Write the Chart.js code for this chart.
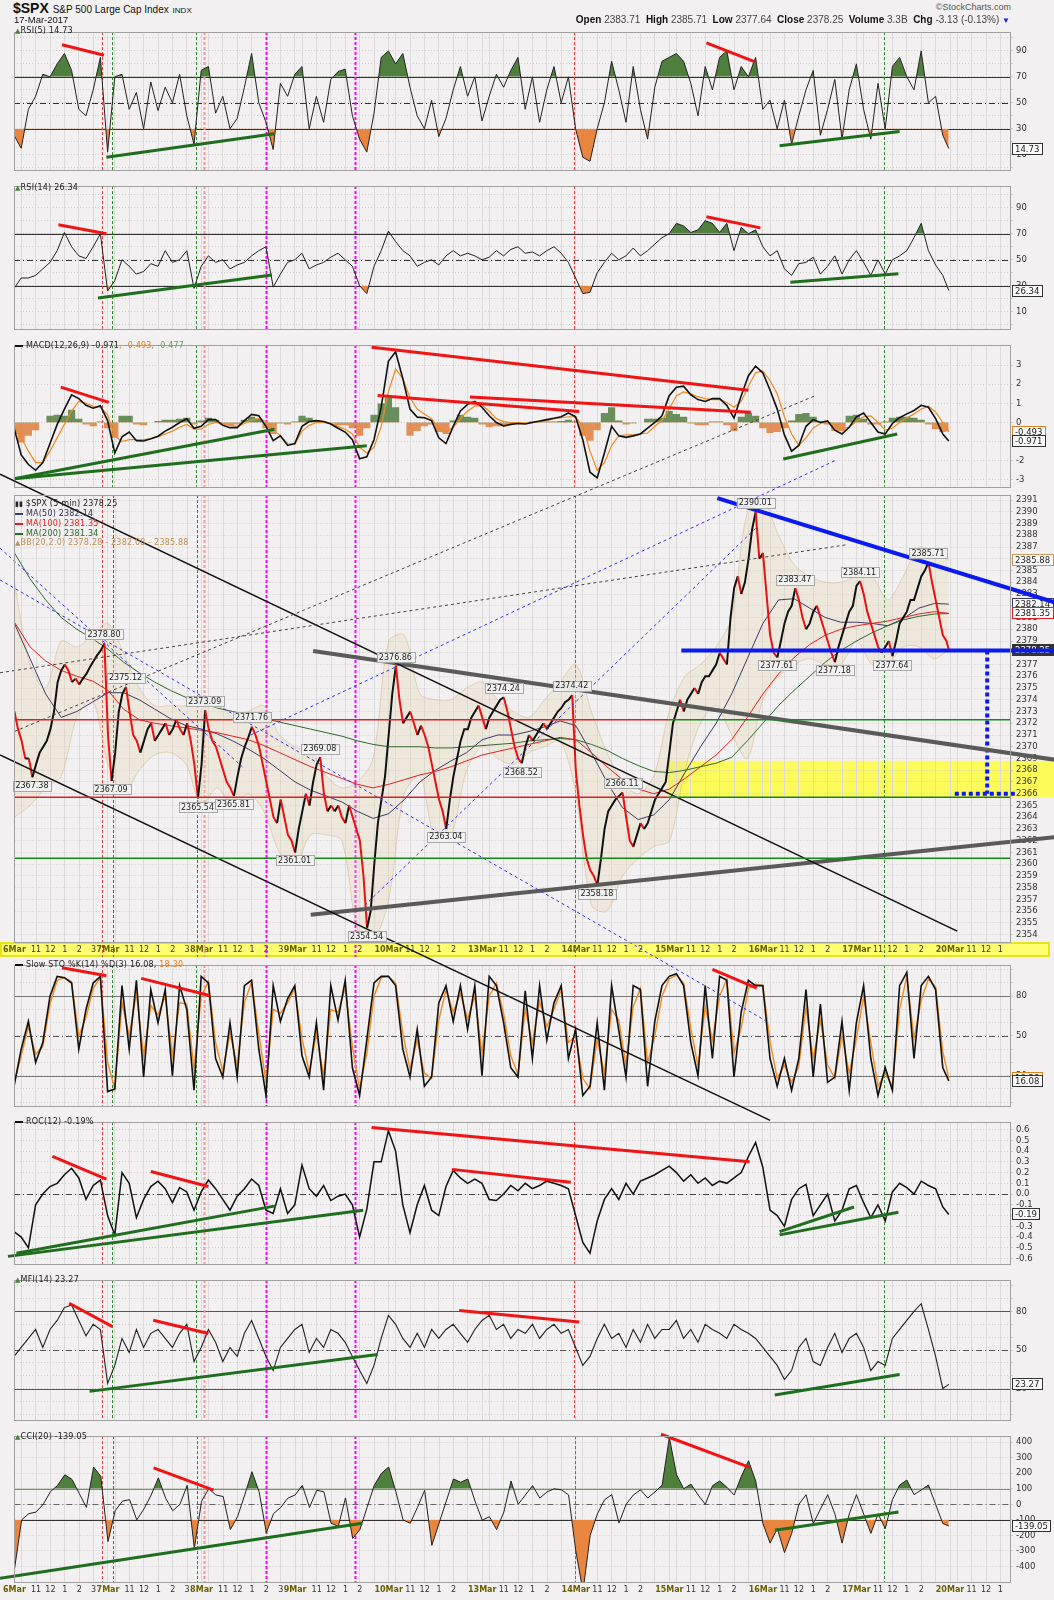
<!DOCTYPE html>
<html>
<head>
<meta charset="utf-8">
<title>$SPX 5 min</title>
<script src="https://cdn.jsdelivr.net/npm/chart.js@4.4.1/dist/chart.umd.min.js"></script>
<style>
  body { margin: 0; background: #f2f0f0; }
  #page { position: relative; width: 1054px; height: 1600px; overflow: hidden; background: #f2f0f0; }
  #page canvas { position: absolute; left: 0; }
  .t { position: absolute; white-space: nowrap; font: 8px "DejaVu Sans", sans-serif; color: #222; z-index: 5; letter-spacing: 0.2px; }
  .hd { position: absolute; white-space: nowrap; font-family: "Liberation Sans", Arial, sans-serif; color: #111; z-index: 5; }
  .g { color: #4e7f3c; font-size: 7px; }
  .dash { display: inline-block; width: 8px; height: 2px; background: #111; vertical-align: middle; margin-right: 3px; }
</style>
</head>
<body>
<div id="page">
  <div class="hd" style="left:13px;top:0px;font-size:14px;font-weight:bold;">$SPX <span style="font-size:10px;font-weight:normal;">S&amp;P 500 Large Cap Index</span> <span style="font-size:8px;font-weight:normal;">INDX</span></div>
  <div class="hd" style="left:14px;top:14px;font-size:9.5px;">17-Mar-2017</div>
  <div class="hd" style="right:43px;top:2px;font-size:9px;color:#555;">&#169;StockCharts.com</div>
  <div class="hd" style="right:44px;top:14px;font-size:10px;"><b>Open</b> <span style="color:#444">2383.71</span>&nbsp; <b>High</b> <span style="color:#444">2385.71</span>&nbsp; <b>Low</b> <span style="color:#444">2377.64</span>&nbsp; <b>Close</b> <span style="color:#444">2378.25</span>&nbsp; <b>Volume</b> <span style="color:#444">3.3B</span>&nbsp; <b>Chg</b> <span style="color:#444">-3.13 (-0.13%)</span> <span style="color:#2020e0;font-size:8px">&#9660;</span></div>

  <canvas id="cRsi5" width="1054" height="154" style="top:24px"></canvas>
  <canvas id="cRsi14" width="1054" height="159" style="top:178px"></canvas>
  <canvas id="cMacd" width="1054" height="158" style="top:337px"></canvas>
  <canvas id="cSto" width="1054" height="157" style="top:957px"></canvas>
  <canvas id="cRoc" width="1054" height="158" style="top:1114px"></canvas>
  <canvas id="cMfi" width="1054" height="156" style="top:1272px"></canvas>
  <canvas id="cCci" width="1054" height="172" style="top:1428px"></canvas>
  <canvas id="cPrice" width="1054" height="800" style="top:330px"></canvas>

  <div class="t" style="left:15px;top:26px"><span class="g">&#9650;</span>RSI(5) 14.73</div>
  <div class="t" style="left:15px;top:183px"><span class="g">&#9650;</span>RSI(14) 26.34</div>
  <div class="t" style="left:15px;top:341px"><span class="dash"></span>MACD(12,26,9) -0.971<span style="color:#e08020">, -0.493</span><span style="color:#6a9a5a">, -0.477</span></div>
  <div class="t" style="left:15px;top:499px"><b style="font-size:7px">&#9646;&#9646;</b> $SPX (5 min) 2378.25</div>
  <div class="t" style="left:15px;top:509px;color:#33335a"><span class="dash" style="background:#3c3c64"></span>MA(50) 2382.14</div>
  <div class="t" style="left:15px;top:519px;color:#e02020"><span class="dash" style="background:#e02020"></span>MA(100) 2381.35</div>
  <div class="t" style="left:15px;top:529px;color:#2a6a2a"><span class="dash" style="background:#2a6a2a"></span>MA(200) 2381.34</div>
  <div class="t" style="left:15px;top:538px;color:#c09050"><span style="font-size:7px">&#9650;</span>BB(20,2.0) 2378.28 - 2382.08 - 2385.88</div>
  <div class="t" style="left:15px;top:960px"><span class="dash"></span>Slow STO %K(14) %D(3) 16.08, <span style="color:#e08020">18.30</span></div>
  <div class="t" style="left:15px;top:1117px"><span class="dash"></span>ROC(12) -0.19%</div>
  <div class="t" style="left:15px;top:1275px"><span class="g">&#9650;</span>MFI(14) 23.27</div>
  <div class="t" style="left:15px;top:1432px"><span class="g">&#9650;</span>CCI(20) -139.05</div>
</div>

<script>
const FONT = '"DejaVu Sans", Verdana, sans-serif';
const X_MAX = 830;   // x axis in 5-minute bars from 6Mar 9:30 (78 bars per session)

// ---- time axis ----
const dayNames = ['6Mar', '7Mar', '8Mar', '9Mar', '10Mar', '13Mar', '14Mar', '15Mar', '16Mar', '17Mar', '20Mar'];
const hourOffsets = [6, 18, 30, 42, 54, 66];
const hourNames = ['', '11', '12', '1', '2', '3'];

// ---- $SPX 15-minute closes, 26 per session, last value = 17Mar close ----
const spxClose = [
  2373, 2371.5, 2370.5, 2369, 2369, 2367.4, 2368.5, 2369.5, 2370, 2370.5, 2371.5, 2373, 2375.5, 2376.5, 2377, 2376.5, 2375.5, 2375.8, 2375.3, 2375.8, 2376.2, 2376.8, 2377.3, 2377.8, 2378.2, 2378.8,
  2371, 2367.1, 2369.5, 2373, 2374.5, 2375.1, 2373, 2371, 2370.5, 2369.5, 2370.5, 2371.5, 2372, 2370.5, 2371, 2371.5, 2372, 2371, 2371.5, 2372.3, 2371.5, 2371, 2372, 2370.5, 2368.5, 2365.6,
  2368.5, 2373.1, 2371.5, 2370.5, 2370, 2369, 2368, 2367, 2366.5, 2365.8, 2367.5, 2369, 2370, 2370.8, 2371.7, 2371, 2370, 2368.5, 2367, 2365.5, 2364, 2363.5, 2365.5, 2364, 2362.5, 2362,
  2361.0, 2363, 2364.5, 2366, 2365, 2367, 2368.5, 2369.1, 2366, 2364.5, 2365, 2364.5, 2365, 2364, 2363.5, 2365, 2364, 2363, 2362, 2359, 2354.6, 2356, 2360, 2363.5, 2365.5, 2367.5,
  2371, 2374.5, 2376.9, 2374, 2372, 2372.5, 2373, 2372, 2371, 2371.8, 2371, 2370, 2368.5, 2367, 2365.5, 2364.5, 2363.0, 2365.5, 2367.5, 2369, 2370.5, 2371.5, 2371.5, 2372.5, 2373, 2373.5,
  2372.5, 2371.5, 2372.5, 2373, 2373.5, 2374, 2374.2, 2373, 2371.5, 2370, 2369, 2368.6, 2370, 2371, 2370.5, 2371, 2371.5, 2372, 2371.5, 2372, 2372.5, 2373, 2373.3, 2373.8, 2374, 2374.4,
  2368, 2365, 2362.5, 2360.5, 2359.5, 2359, 2358.2, 2360.5, 2363, 2364.5, 2365, 2365.5, 2365.8, 2366.1, 2364, 2362, 2361.5, 2362.5, 2363.5, 2363, 2363.5, 2364.5, 2365.5, 2366, 2366.5, 2367,
  2369.5, 2372, 2373, 2374, 2373, 2374, 2374.5, 2375, 2374.5, 2375.5, 2376, 2376, 2376.5, 2377, 2378, 2377.5, 2377, 2381, 2383.5, 2384.5, 2383, 2384, 2386, 2388.5, 2390, 2386,
  2386.5, 2383, 2379.5, 2378, 2377.6, 2379, 2380.5, 2381.5, 2382, 2383.5, 2382.5, 2381, 2380, 2380.5, 2381.5, 2382, 2381, 2380, 2379, 2378, 2377.2, 2378.5, 2379.5, 2380.5, 2381.5, 2382,
  2383.7, 2384.1, 2383, 2381.5, 2380.5, 2379.5, 2378.5, 2378, 2378.5, 2379, 2377.7, 2379, 2380.5, 2381, 2381.5, 2382.5, 2382.5, 2383.5, 2384.5, 2385, 2385.7, 2384, 2382.5, 2381, 2379.5, 2379,
  2378.25
];

// ---- overlays, one value every 13 bars, last = 17Mar close ----
const ma50 = [2380.5, 2377.5, 2374.5, 2372.5, 2373.0, 2373.8, 2374.6, 2374.6, 2374.0, 2373.2, 2372.4, 2371.8, 2371.5, 2371.1, 2370.5, 2369.8, 2369.0, 2368.0, 2367.0, 2366.3, 2365.8, 2365.3, 2364.5, 2363.9, 2364.3, 2365.5, 2367.0, 2368.0, 2368.8, 2369.5, 2370.6, 2371.0, 2371.0, 2371.3, 2371.7, 2372.2, 2371.8, 2369.5, 2367.0, 2364.8, 2363.8, 2364.2, 2365.5, 2367.8, 2370.0, 2372.0, 2374.5, 2377.5, 2380.5, 2382.5, 2382.6, 2381.8, 2381.0, 2380.6, 2380.6, 2380.5, 2380.3, 2380.9, 2381.8, 2382.2, 2382.14];
const ma100 = [2380.6, 2378.5, 2377.3, 2376.5, 2376.0, 2375.6, 2374.8, 2373.2, 2372.3, 2372.0, 2371.8, 2371.6, 2371.4, 2371.2, 2370.9, 2370.6, 2370.1, 2369.5, 2368.9, 2368.3, 2367.8, 2367.3, 2366.8, 2366.5, 2366.8, 2367.2, 2367.6, 2367.9, 2368.3, 2368.8, 2369.3, 2369.6, 2369.9, 2370.2, 2370.5, 2370.8, 2370.6, 2369.5, 2368.3, 2367.2, 2366.4, 2366.0, 2366.4, 2367.3, 2368.3, 2369.3, 2370.6, 2372.5, 2374.5, 2376.2, 2377.6, 2378.7, 2379.5, 2380.0, 2380.3, 2380.5, 2380.7, 2381.0, 2381.3, 2381.5, 2381.35];
const ma200 = [2386.5, 2384.3, 2382.5, 2381.0, 2380.0, 2379.2, 2378.3, 2377.2, 2376.3, 2375.5, 2374.8, 2374.2, 2373.7, 2373.3, 2373.0, 2372.7, 2372.4, 2372.1, 2371.8, 2371.5, 2371.2, 2370.9, 2370.5, 2370.2, 2370.0, 2370.0, 2370.0, 2369.9, 2369.9, 2370.0, 2370.1, 2370.2, 2370.3, 2370.5, 2370.6, 2370.7, 2370.6, 2370.2, 2369.7, 2369.0, 2368.4, 2367.9, 2367.8, 2368.0, 2368.3, 2368.6, 2369.1, 2370.5, 2372.0, 2373.5, 2374.8, 2376.0, 2377.2, 2378.2, 2379.0, 2379.7, 2380.3, 2380.8, 2381.1, 2381.3, 2381.34];
const bbUpper = [2384, 2377, 2375, 2379, 2378.5, 2379.5, 2380.5, 2378, 2375, 2373.5, 2373.5, 2373.5, 2374, 2374, 2372.5, 2373, 2373.5, 2371, 2370, 2369.5, 2367.5, 2366.5, 2367, 2369, 2379, 2379.5, 2374.5, 2374, 2374, 2375, 2375.5, 2374, 2373, 2372.5, 2374, 2375.5, 2377, 2373, 2369.5, 2367, 2366, 2367.5, 2373, 2376, 2377, 2378.5, 2381, 2390, 2391, 2388, 2385.5, 2384.5, 2384, 2384, 2384.5, 2384.5, 2382.5, 2384.5, 2387, 2386.5, 2385.88];
const bbLower = [2364, 2365, 2366.5, 2367.5, 2372.5, 2374, 2368.5, 2366, 2368, 2369.3, 2369.5, 2368.5, 2365, 2366.5, 2365, 2366, 2364.5, 2361, 2360, 2362.5, 2362.5, 2362, 2354.5, 2353.5, 2357, 2366, 2367.5, 2362, 2362.5, 2368, 2370, 2369, 2368.5, 2369.5, 2370, 2370.5, 2366, 2356.5, 2356, 2359, 2360.5, 2361.5, 2362, 2368, 2372, 2373.5, 2371, 2369, 2374, 2376, 2377, 2377.5, 2377, 2377, 2379, 2377, 2377, 2378.5, 2378.5, 2377.5, 2378.28];

// ---- labelled highs and lows ----
const hiloBars = [75, 93, 159, 198, 255, 318, 408, 465, 507, 618, 651, 705, 762, 15, 81, 153, 183, 234, 294, 360, 423, 486, 636, 684, 732];
const hiloValues = [2378.80, 2375.12, 2373.09, 2371.76, 2369.08, 2376.86, 2374.24, 2374.42, 2366.11, 2390.01, 2383.47, 2384.11, 2385.71, 2367.38, 2367.09, 2365.54, 2365.81, 2361.01, 2354.54, 2363.04, 2368.52, 2358.18, 2377.61, 2377.18, 2377.64];
const hiloIsHigh = [1, 1, 1, 1, 1, 1, 1, 1, 1, 1, 1, 1, 1, 0, 0, 0, 0, 0, 0, 0, 0, 0, 0, 0, 0];

// ---- indicators, one value every 6 bars (30 min), last = 17Mar close ----
const rsi5 = [
  25, 15, 45, 55, 72, 70, 80, 88, 75, 45, 40, 60, 85,
  12, 70, 72, 45, 58, 30, 66, 44, 62, 50, 72, 40, 18,
  75, 78, 42, 55, 30, 38, 62, 88, 50, 35, 14, 65, 55,
  72, 78, 30, 55, 35, 68, 74, 76, 40, 22, 12, 42, 85,
  90, 80, 88, 62, 40, 30, 52, 24, 38, 60, 78, 55, 70,
  36, 55, 72, 62, 75, 85, 45, 70, 35, 60, 78, 50, 70,
  30, 8, 5, 30, 50, 82, 60, 35, 78, 45, 22, 62, 82,
  85, 88, 82, 65, 40, 78, 60, 85, 90, 60, 78, 70, 85,
  45, 52, 30, 52, 18, 40, 60, 75, 25, 45, 68, 22, 60,
  80, 45, 22, 65, 30, 78, 85, 70, 60, 90, 50, 55, 25,
  14.73];
const rsi14 = [
  28, 36, 36, 38, 43, 48, 57, 71, 60, 53, 51, 60, 70,
  26, 34, 50, 45, 39, 41, 47, 45, 57, 48, 50, 57, 28,
  45, 53, 48, 50, 43, 46, 48, 53, 57, 60, 29, 39, 48,
  50, 55, 43, 46, 48, 52, 55, 50, 45, 30, 24, 45, 57,
  72, 64, 57, 53, 45, 48, 50, 46, 53, 57, 53, 55, 53,
  50, 52, 57, 53, 58, 60, 55, 56, 53, 57, 60, 55, 48,
  36, 24, 25, 40, 48, 55, 50, 53, 59, 53, 57, 62, 67,
  70, 78, 76, 71, 73, 80, 78, 71, 78, 57, 75, 70, 73,
  60, 53, 57, 43, 38, 47, 48, 52, 39, 45, 53, 39, 50,
  57, 48, 38, 50, 39, 50, 53, 57, 67, 78, 57, 46, 38,
  26.34];
const macdLine = [
  -0.27, -1.7, -2.2, -2.5, -2.1, -1.1, -0.1, 0.7, 1.45, 1.25, 0.9, 0.75, 0.88,
  0.1, -1.6, -0.75, -0.5, -0.95, -0.97, -0.85, -0.72, -0.45, -0.25, 0.0, 0.2, -0.3,
  -0.2, 0.15, 0.15, -0.15, -0.27, -0.27, 0.1, 0.42, 0.35, -0.2, -0.95, -0.7, -1.2,
  -1.1, -0.2, 0.05, 0.1, 0.05, -0.08, -0.3, -0.5, -0.9, -1.9, -1.8, -0.9, 0.8,
  3.2, 3.7, 2.3, 0.7, 0.28, 0.25, 0.1, -0.8, -1.1, -0.2, 0.6, 0.95, 1.1,
  0.8, 0.35, 0.0, -0.18, -0.1, -0.05, -0.08, 0.0, 0.08, 0.15, 0.22, 0.3, 0.5,
  0.3, -0.9, -2.6, -2.9, -1.6, -0.2, -0.7, -0.78, -0.7, -0.6, -0.3, 0.0, 0.35,
  1.4, 1.85, 1.9, 1.45, 1.2, 1.1, 1.25, 1.25, 0.9, 0.23, 1.4, 2.45, 2.95,
  2.6, 1.7, 0.7, -0.65, -1.5, -1.2, -0.2, 0.15, 0.0, 0.08, -0.4, -0.6, -0.25,
  0.3, 0.5, 0.0, -0.5, -0.6, -0.05, 0.25, 0.45, 0.63, 0.9, 0.8, 0.2, -0.6,
  -0.971];
const macdSignal = [
  -0.2, -0.8, -1.5, -2.1, -2.1, -1.5, -0.8, -0.1, 0.6, 1.1, 1.0, 0.85, 0.8,
  0.4, -0.7, -1.0, -0.9, -0.9, -0.9, -0.85, -0.75, -0.6, -0.45, -0.25, -0.1, -0.35,
  -0.35, -0.1, 0.0, -0.05, -0.15, -0.2, -0.05, 0.15, 0.2, 0.05, -0.4, -0.7, -1.1,
  -1.15, -0.45, -0.15, 0.0, 0.0, -0.05, -0.2, -0.35, -0.6, -1.3, -1.6, -1.3, -0.2,
  1.6, 2.8, 2.3, 1.3, 0.7, 0.45, 0.2, -0.3, -0.5, -0.25, 0.2, 0.6, 0.85,
  0.9, 0.6, 0.2, 0.05, 0.0, 0.0, -0.02, 0.0, 0.05, 0.1, 0.2, 0.25, 0.3,
  0.3, -0.2, -1.5, -2.5, -2.1, -1.2, -0.7, -0.65, -0.65, -0.6, -0.55, -0.2, 0.1,
  0.7, 1.4, 1.6, 1.5, 1.35, 1.25, 1.2, 1.2, 1.05, 0.8, 1.1, 1.9, 2.6,
  2.7, 2.2, 1.5, 0.3, -0.6, -1.2, -0.8, -0.3, -0.05, 0.0, -0.1, -0.3, -0.25,
  0.05, 0.3, 0.35, 0.0, -0.4, -0.3, 0.0, 0.25, 0.45, 0.7, 0.85, 0.55, 0.0,
  -0.493];
const macdHist = [
  -0.6, -1.05, -0.7, -0.4, 0.0, 0.35, 0.4, 0.35, 0.67, 0.2, -0.1, -0.2, 0.05,
  -0.3, -0.8, 0.35, 0.35, -0.1, -0.15, 0.0, 0.08, 0.15, 0.15, 0.2, 0.25, -0.1,
  0.1, 0.25, 0.15, -0.1, -0.15, -0.1, 0.15, 0.3, 0.2, -0.3, -0.6, -0.05, -0.1,
  0.05, 0.35, 0.25, 0.1, 0.05, -0.05, -0.15, -0.15, -0.3, -0.7, -0.3, 0.4, 1.0,
  1.3, 0.8, 0.0, -0.7, -0.45, -0.2, -0.1, -0.5, -0.6, 0.1, 0.4, 0.3, 0.25,
  -0.1, -0.25, -0.2, -0.2, -0.1, -0.05, 0.0, 0.05, 0.05, 0.05, 0.05, 0.08, 0.15,
  0.05, -0.7, -0.95, -0.4, 0.5, 0.8, 0.1, -0.1, -0.05, 0.0, 0.2, 0.2, 0.25,
  0.6, 0.45, 0.3, -0.05, -0.15, -0.15, 0.05, 0.05, -0.15, -0.45, 0.3, 0.5, 0.35,
  -0.3, -0.55, -0.5, -0.3, 0.1, 0.45, 0.5, 0.3, 0.05, -0.1, -0.45, -0.45, 0.35,
  0.4, 0.2, -0.1, -0.1, 0.05, 0.25, 0.3, 0.3, 0.25, 0.15, -0.1, -0.35, -0.5,
  -0.477];
const stoK = [
  12, 40, 61, 30, 45, 80, 95, 94, 90, 40, 70, 90, 95,
  8, 10, 88, 40, 92, 19, 85, 60, 85, 20, 88, 70, 9,
  95, 90, 33, 19, 60, 19, 88, 92, 40, 5, 88, 61, 78,
  88, 35, 19, 60, 9, 88, 62, 92, 26, 5, 47, 90, 95,
  95, 88, 40, 19, 55, 12, 19, 75, 88, 61, 88, 55, 88,
  20, 95, 88, 60, 26, 19, 84, 33, 88, 47, 75, 88, 33,
  55, 5, 12, 60, 9, 88, 54, 19, 88, 85, 12, 61, 88,
  95, 97, 88, 45, 20, 88, 33, 95, 92, 19, 68, 92, 88,
  88, 33, 12, 33, 9, 33, 85, 19, 74, 15, 19, 61, 9,
  60, 88, 33, 5, 26, 9, 88, 98, 33, 88, 95, 85, 26,
  16.08];
const stoD = [
  14, 35, 57, 36, 42, 74, 92, 94, 91, 50, 64, 86, 94,
  30, 10, 75, 50, 82, 35, 73, 66, 80, 35, 75, 74, 25,
  80, 91, 45, 23, 52, 28, 75, 91, 52, 15, 70, 67, 75,
  86, 48, 23, 52, 20, 70, 68, 86, 42, 10, 37, 80, 94,
  95, 90, 52, 25, 47, 22, 18, 62, 85, 68, 82, 63, 80,
  37, 80, 90, 67, 35, 21, 70, 45, 76, 57, 70, 85, 45,
  50, 18, 10, 48, 22, 70, 62, 28, 72, 86, 30, 50, 80,
  93, 96, 90, 56, 27, 72, 47, 80, 93, 37, 56, 86, 89,
  88, 46, 18, 28, 15, 27, 72, 33, 62, 28, 18, 50, 22,
  48, 80, 45, 12, 22, 12, 70, 95, 48, 77, 93, 87, 38,
  18.30];
const roc12 = [
  -0.35, -0.40, -0.50, -0.10, 0.0, 0.07, 0.10, 0.18, 0.24, 0.15, -0.05, 0.08, 0.13,
  -0.20, -0.38, 0.20, 0.10, -0.22, -0.05, 0.07, 0.12, 0.05, -0.08, 0.06, 0.02, -0.15,
  0.02, 0.13, 0.05, -0.05, -0.15, -0.02, 0.05, 0.14, 0.08, -0.15, -0.18, 0.05, -0.18,
  -0.10, 0.27, 0.05, -0.02, 0.08, -0.06, -0.02, 0.0, -0.10, -0.40, -0.14, 0.30, 0.30,
  0.59, 0.40, -0.10, -0.36, -0.10, 0.08, -0.15, -0.20, 0.07, 0.22, 0.15, 0.10, 0.14,
  0.10, -0.05, -0.06, 0.0, 0.08, 0.03, 0.10, 0.05, 0.08, 0.12, 0.10, 0.08, 0.05,
  -0.20, -0.45, -0.55, -0.25, -0.05, 0.05, -0.05, 0.10, 0.0, 0.12, 0.15, 0.18, 0.22,
  0.26, 0.20, 0.12, 0.18, 0.10, 0.15, 0.08, 0.12, 0.10, 0.15, 0.20, 0.35, 0.48,
  0.25, -0.15, -0.20, -0.30, -0.05, 0.05, 0.09, -0.20, -0.10, 0.0, -0.25, -0.15, 0.05,
  0.08, -0.08, -0.22, -0.10, -0.25, 0.02, 0.10, 0.06, 0.0, 0.12, 0.08, 0.05, -0.12,
  -0.19];
const mfi14 = [
  45, 52, 59, 66, 52, 66, 73, 83, 85, 73, 61, 70, 66,
  24, 38, 59, 48, 66, 52, 63, 66, 59, 52, 63, 70, 41,
  52, 66, 56, 41, 52, 45, 63, 73, 59, 45, 34, 52, 59,
  66, 70, 48, 59, 52, 66, 63, 56, 45, 34, 24, 38, 59,
  77, 70, 59, 52, 63, 52, 66, 59, 66, 70, 63, 56, 66,
  73, 77, 66, 70, 59, 66, 63, 70, 59, 66, 70, 63, 66,
  52, 38, 45, 59, 70, 59, 63, 52, 66, 56, 70, 59, 66,
  66, 73, 59, 66, 56, 70, 66, 63, 59, 70, 66, 63, 59,
  52, 45, 38, 27, 34, 52, 59, 41, 38, 52, 63, 48, 59,
  63, 52, 34, 41, 38, 59, 66, 73, 80, 86, 66, 45, 20,
  23.27];
const cci20 = [
  -420, -100, -60, -50, 0, 81, 122, 190, 160, 70, -20, 240, 180,
  -240, -41, 20, 30, -100, -30, 60, 170, 40, -41, 0, 122, -285,
  20, 100, 60, 50, -163, -80, 60, 210, 80, -183, -60, -20, 40,
  60, 122, -20, 90, 81, -122, -142, 41, -220, -163, -20, 122, 200,
  240, 81, -100, -122, -20, 90, -264, -122, 20, 163, 142, 163, 20,
  -102, -80, -163, -50, 150, 0, 60, 120, 40, 80, 100, 93, 60,
  -300, -560, -200, -62, 30, 62, -120, 0, 60, 93, 40, 80, 124,
  430, 190, 100, 130, 60, 0, 120, 150, 110, 60, 180, 280, 150,
  -124, -250, -156, -311, -187, 0, 62, -124, -30, 62, -62, -250, -62,
  62, -62, -187, -62, -156, 30, 124, 156, 62, 93, 124, 0, -124,
  -139.05];

// ---- vertical event markers (bar, colour, width) ----
const markBars = [73, 82, 152, 158, 210, 284, 467, 725];
const markColors = ['#e03c3c', '#2a8a2a', '#2a8a2a', '#f29a9a', '#ff00ff', '#ff00ff', '#e03c3c', '#2a8a2a'];
const markWidths = [1, 1, 1, 2, 2, 2, 1, 1];

// ---- hand-drawn trend lines: [bar0, value0, bar1, value1] ----
const rsi5Red = [[40, 94.8, 75, 86.6], [577, 96.2, 617, 81.7]];
const rsi5Green = [[77, 8, 217, 26.2], [638, 16.9, 738, 27.9]];
const rsi14Red = [[37, 76.9, 77, 70], [577, 83.1, 622, 74.5]];
const rsi14Green = [[70, 20.6, 215, 38.3], [647, 32.8, 737, 39.3]];
const macdRed = [[39, 1.85, 79, 1.05], [298, 3.94, 612, 1.69], [303, 1.41, 471, 0.58], [380, 1.33, 614, 0.53]];
const macdGreen = [[0, -2.94, 217, -0.35], [0, -2.94, 294, -1.22], [641, -1.91, 736, -0.6]];
const stoRed = [[40, 101.5, 77, 95.4], [106, 93.5, 163, 80.5], [582, 100.3, 619, 86.1]];
const rocRed = [[32, 0.35, 77, 0.14], [114, 0.21, 162, 0.07], [298, 0.62, 613, 0.30], [365, 0.23, 464, 0.11]];
const rocGreen = [[-5, -0.58, 291, -0.15], [2, -0.55, 218, -0.11], [638, -0.35, 700, -0.12], [638, -0.38, 737, -0.17]];
const mfiRed = [[46, 86.4, 82, 68.2], [116, 73.1, 162, 62.9], [371, 80.8, 471, 71.7]];
const mfiGreen = [[63, 17.8, 303, 46.5], [634, 15, 738, 31]];
const cciRed = [[116, 234, 166, 91], [539, 451, 613, 238]];
const cciGreen = [[-12, -476, 290, -122], [634, -167, 737, -49]];

const spxBlack = [[-12, 2393.2, 786, 2354.3], [-12, 2369.3, 630, 2338.2]];
const spxGrayThick = [[249, 2378.15, 867, 2368.9], [247, 2355.7, 867, 2362.3]];
const spxBlueThick = [[586, 2391.17, 867, 2382.3], [556, 2378.2, 867, 2378.2]];
const spxGrayDashed = [[-12, 2376.3, 694, 2387.2], [0, 2371.3, 668, 2399.9]];
const spxBlueDashed = [[-12, 2386.9, 190, 2368.3], [-12, 2384.2, 626, 2346.7], [197, 2371, 685, 2394.4], [292, 2356.5, 618, 2388.6]];
const spxTarget = [[811, 2378.2, 811, 2366.0], [784, 2366.0, 836, 2366.0]];
const spxRedLevels = [[0, 2372.3, 545, 2372.3], [0, 2365.7, 545, 2365.7]];
const spxGreenLevels = [[545, 2372.3, 830, 2372.3], [545, 2365.7, 830, 2365.7], [0, 2360.5, 830, 2360.5]];
const supportZone = [545, 2365.7, 2368.8];   // from bar, low, high

// ---- helpers ----
const every6 = v => v.map((y, i) => ({ x: i < v.length - 1 ? i * 6 : 779, y }));
const every3 = v => v.map((y, i) => ({ x: i < v.length - 1 ? i * 3 : 779, y }));
const every13 = v => v.map((y, i) => ({ x: i < v.length - 1 ? i * 13 : 779, y }));
const seg = l => [{ x: l[0], y: l[1] }, { x: l[2], y: l[3] }];

function line(data, color, width, order) {
  return { data, borderColor: color, borderWidth: width, pointRadius: 0, fill: false, tension: 0, order: order || 5 };
}
function trend(list, color, width, dash) {
  return list.map(l => ({ data: seg(l), borderColor: color, borderWidth: width, borderDash: dash || [],
    pointRadius: 0, fill: false, clip: false, order: 1, tension: 0 }));
}
function zoneFill(data, level, above, below) {
  return { data, borderWidth: 0, borderColor: 'rgba(0,0,0,0)', pointRadius: 0, order: 8,
    fill: { target: { value: level }, above, below } };
}

const xTickBars = [];
const xTickText = {};
dayNames.forEach((name, d) => {
  const b0 = d * 78;
  xTickBars.push(b0);
  xTickText[b0] = name;
  hourOffsets.forEach((off, j) => {
    const b = b0 + off;
    if (b > X_MAX) return;
    xTickBars.push(b);
    xTickText[b] = (hourNames[j] === '3' && d > 2) ? '' : hourNames[j];
  });
});

function xScale(axisH) {
  const isDay = c => c.tick && dayNames.includes(xTickText[c.tick.value]);
  return {
    type: 'linear', min: 0, max: X_MAX,
    afterBuildTicks: s => { s.ticks = xTickBars.map(v => ({ value: v })); },
    afterFit: s => { s.height = axisH; },
    grid: { color: '#dcdada', drawTicks: false, lineWidth: 1 },
    border: { display: false },
    ticks: {
      display: axisH > 0, autoSkip: false, maxRotation: 0, padding: 3,
      callback: v => xTickText[v] || '',
      font: c => ({ family: FONT, size: 8, weight: isDay(c) ? 'bold' : 'normal' }),
      color: c => isDay(c) ? '#6b6000' : '#333'
    }
  };
}

function yScale(min, max, tickVals, labelVals, fmt) {
  return {
    position: 'right', min, max,
    afterFit: s => { s.width = 44; },
    afterBuildTicks: s => { s.ticks = tickVals.map(v => ({ value: v })); },
    grid: { color: '#d0cece', tickLength: 3, lineWidth: 1 },
    border: { display: false, dash: [1, 2] },
    ticks: { font: { family: FONT, size: 8.5 }, color: '#333', padding: 3, autoSkip: false,
      callback: v => labelVals.includes(v) ? fmt(v) : '' }
  };
}

// per-canvas decoration settings, read by the plugin below
const decoCfg = {};
const decoPlugin = {
  id: 'deco',
  beforeDraw(chart) {
    const o = decoCfg[chart.canvas.id] || {};
    const { ctx, chartArea: ca, scales } = chart;
    ctx.save();
    if (o.zone) {
      const x0 = scales.x.getPixelForValue(o.zone[0]);
      const yLo = scales.y.getPixelForValue(o.zone[1]);
      const yHi = scales.y.getPixelForValue(o.zone[2]);
      ctx.fillStyle = 'rgba(255,255,40,0.75)';
      ctx.fillRect(x0, yHi, chart.width - x0, yLo - yHi);
    }
    if (o.band) {
      ctx.fillStyle = '#ffff70';
      ctx.fillRect(0, ca.bottom, chart.width - 4, o.band);
      ctx.strokeStyle = '#e4e418';
      ctx.lineWidth = 2;
      ctx.strokeRect(1, ca.bottom + 1, chart.width - 6, o.band - 2);
    }
    ctx.restore();
  },
  beforeDatasetsDraw(chart) {
    const o = decoCfg[chart.canvas.id] || {};
    const { ctx, chartArea: ca, scales } = chart;
    ctx.save();
    (o.refs || []).forEach(r => {
      const py = Math.round(scales.y.getPixelForValue(r.v)) + 0.5;
      ctx.strokeStyle = r.color || '#333';
      ctx.lineWidth = 1;
      ctx.setLineDash(r.dash || []);
      ctx.beginPath(); ctx.moveTo(ca.left, py); ctx.lineTo(ca.right, py); ctx.stroke();
    });
    markBars.forEach((b, i) => {
      const px = Math.round(scales.x.getPixelForValue(b)) + 0.5;
      ctx.strokeStyle = markColors[i];
      ctx.lineWidth = markWidths[i];
      ctx.setLineDash([3, 2]);
      ctx.beginPath(); ctx.moveTo(px, ca.top); ctx.lineTo(px, ca.bottom + (o.band || 0)); ctx.stroke();
    });
    ctx.setLineDash([]);
    ctx.font = '8.5px ' + FONT;
    ctx.textBaseline = 'middle';
    (o.tags || []).forEach(t => {
      const py = Math.round(scales.y.getPixelForValue(t.v));
      const w = Math.ceil(ctx.measureText(t.text).width) + 6;
      const x = ca.right + 2;
      ctx.fillStyle = t.bg || '#fafafa';
      ctx.fillRect(x, py - 6, w, 12);
      ctx.strokeStyle = t.border || '#333';
      ctx.lineWidth = 1;
      ctx.strokeRect(x + 0.5, py - 5.5, w - 1, 11);
      ctx.fillStyle = t.color || '#222';
      ctx.fillText(t.text, x + 3, py + 0.5);
    });
    ctx.restore();
  },
  afterDatasetsDraw(chart) {
    const o = decoCfg[chart.canvas.id] || {};
    const { ctx, chartArea: ca, scales } = chart;
    ctx.save();
    if (o.hilo) {
      ctx.font = '8px ' + FONT;
      ctx.textBaseline = 'middle';
      hiloBars.forEach((b, i) => {
        const px = scales.x.getPixelForValue(b);
        const py = scales.y.getPixelForValue(hiloValues[i]);
        const txt = hiloValues[i].toFixed(2);
        const w = Math.ceil(ctx.measureText(txt).width) + 4;
        const by = hiloIsHigh[i] ? py - 14 : py + 3;
        ctx.fillStyle = 'rgba(242,242,242,0.92)';
        ctx.fillRect(px - w / 2, by, w, 11);
        ctx.strokeStyle = '#a8a8a8';
        ctx.lineWidth = 1;
        ctx.strokeRect(Math.round(px - w / 2) + 0.5, Math.round(by) + 0.5, w, 10);
        ctx.fillStyle = '#222';
        ctx.fillText(txt, px - w / 2 + 2, by + 5.5);
      });
    }
    ctx.strokeStyle = '#a0a0a0';
    ctx.lineWidth = 1;
    ctx.strokeRect(Math.round(ca.left) + 0.5, Math.round(ca.top) + 0.5, Math.round(ca.width), Math.round(ca.height));
    ctx.restore();
  }
};

function makeChart(id, datasets, y, opts) {
  opts = opts || {};
  return new Chart(document.getElementById(id), {
    type: 'line',
    data: { datasets },
    options: {
      responsive: false, animation: false, events: [], devicePixelRatio: 1,
      layout: { padding: { left: 14, right: 0, top: opts.padTop || 0, bottom: opts.padBottom || 0 } },
      plugins: { legend: { display: false }, tooltip: { enabled: false } },
      scales: { x: xScale(opts.axisH || 0), y }
    },
    plugins: [decoPlugin]
  });
}

const GREEN_FILL = '#4f7f3d';
const ORANGE_FILL = '#e8853e';
const RED = '#f01414';
const GREEN = '#1e6e1e';
const dashDot = [6, 3, 1, 3];
const oscTicks = [0, 10, 20, 30, 40, 50, 60, 70, 80, 90, 100];
const int = v => String(v);

// ---- RSI(5) ----
decoCfg.cRsi5 = { refs: [{ v: 70 }, { v: 30 }, { v: 50, dash: dashDot }], tags: [{ v: 14.73, text: '14.73' }] };
makeChart('cRsi5', [
  zoneFill(every6(rsi5), 70, GREEN_FILL, 'rgba(0,0,0,0)'),
  zoneFill(every6(rsi5), 30, 'rgba(0,0,0,0)', ORANGE_FILL),
  line(every6(rsi5), '#222', 1),
  ...trend(rsi5Red, RED, 3), ...trend(rsi5Green, GREEN, 3)
], yScale(-1.7, 104.5, oscTicks, [10, 30, 50, 70, 90], int));

// ---- RSI(14) ----
decoCfg.cRsi14 = { refs: [{ v: 70 }, { v: 30 }, { v: 50, dash: dashDot }], tags: [{ v: 26.34, text: '26.34' }] };
makeChart('cRsi14', [
  zoneFill(every6(rsi14), 70, GREEN_FILL, 'rgba(0,0,0,0)'),
  zoneFill(every6(rsi14), 30, 'rgba(0,0,0,0)', ORANGE_FILL),
  line(every6(rsi14), '#222', 1),
  ...trend(rsi14Red, RED, 3), ...trend(rsi14Green, GREEN, 3)
], yScale(-3.1, 106.6, oscTicks, [10, 30, 50, 70, 90], int));

// ---- MACD ----
decoCfg.cMacd = { tags: [{ v: -0.493, text: '-0.493', border: '#e08020' }, { v: -0.971, text: '-0.971' }] };
makeChart('cMacd', [
  { data: every6(macdHist), borderWidth: 0, borderColor: 'rgba(0,0,0,0)', pointRadius: 0, order: 9, stepped: 'middle',
    fill: { target: 'origin', above: 'rgba(70,120,55,0.8)', below: 'rgba(222,120,50,0.8)' } },
  line(every6(macdSignal), '#f08a20', 1.2, 6),
  line(every6(macdLine), '#111', 1.6, 5),
  ...trend(macdRed, RED, 3), ...trend(macdGreen, GREEN, 3)
], yScale(-3.37, 4.05, [-3, -2, -1, 0, 1, 2, 3], [-3, -2, -1, 0, 1, 2, 3], int));

// ---- Slow STO ----
decoCfg.cSto = { refs: [{ v: 80, color: '#777' }, { v: 20, color: '#777' }, { v: 50, dash: dashDot, color: '#555' }],
  tags: [{ v: 18.30, text: '18.30', border: '#e08020' }, { v: 16.08, text: '16.08' }] };
makeChart('cSto', [
  line(every6(stoD), '#f08a20', 1.4, 6),
  line(every6(stoK), '#111', 1.6, 5),
  ...trend(stoRed, RED, 3)
], yScale(-2.8, 103.5, oscTicks, [20, 50, 80], int));

// ---- ROC(12) ----
const rocTicks = [-0.6, -0.5, -0.4, -0.3, -0.2, -0.1, 0, 0.1, 0.2, 0.3, 0.4, 0.5, 0.6];
decoCfg.cRoc = { refs: [{ v: 0, dash: dashDot, color: '#444' }], tags: [{ v: -0.19, text: '-0.19' }] };
makeChart('cRoc', [
  line(every6(roc12), '#111', 1.5),
  ...trend(rocRed, RED, 3), ...trend(rocGreen, GREEN, 3)
], yScale(-0.65, 0.67, rocTicks, rocTicks, v => v.toFixed(1)));

// ---- MFI(14) ----
decoCfg.cMfi = { refs: [{ v: 80, color: '#555' }, { v: 20, color: '#555' }, { v: 50, dash: dashDot, color: '#555' }],
  tags: [{ v: 23.27, text: '23.27' }] };
makeChart('cMfi', [
  line(every6(mfi14), '#222', 1.1),
  ...trend(mfiRed, RED, 3), ...trend(mfiGreen, GREEN, 3)
], yScale(-4.4, 104.4, oscTicks, [20, 50, 80], int));

// ---- CCI(20) ----
const cciTicks = [-400, -300, -200, -100, 0, 100, 200, 300, 400];
decoCfg.cCci = { refs: [{ v: 100, color: '#888' }, { v: -100, color: '#333' }, { v: 0, dash: dashDot, color: '#666' }],
  tags: [{ v: -139.05, text: '-139.05' }] };
makeChart('cCci', [
  zoneFill(every6(cci20), 100, GREEN_FILL, 'rgba(0,0,0,0)'),
  zoneFill(every6(cci20), -100, 'rgba(0,0,0,0)', ORANGE_FILL),
  line(every6(cci20), '#222', 1),
  ...trend(cciRed, RED, 3), ...trend(cciGreen, GREEN, 3)
], yScale(-500, 439, cciTicks, cciTicks, int), { axisH: 18 });

// ---- $SPX price panel (canvas overlaps MACD and STO so lines can run across) ----
const priceTicks = [];
for (let p = 2354; p <= 2391; p++) priceTicks.push(p);
decoCfg.cPrice = {
  band: 15, zone: supportZone, hilo: true,
  tags: [
    { v: 2385.88, text: '2385.88', border: '#c89a58' },
    { v: 2382.14, text: '2382.14', border: '#3c3c64' },
    { v: 2381.35, text: '2381.35', border: '#e02020' },
    { v: 2378.25, text: '2378.25', bg: '#333', color: '#fff' }
  ]
};
makeChart('cPrice', [
  { data: every13(bbUpper), borderColor: 'rgba(205,175,125,0.45)', borderWidth: 1, pointRadius: 0, fill: false, tension: 0.3, order: 20 },
  { data: every13(bbLower), borderColor: 'rgba(205,175,125,0.45)', borderWidth: 1, pointRadius: 0, tension: 0.3, order: 20,
    fill: { target: '-1', above: 'rgba(228,212,178,0.32)', below: 'rgba(228,212,178,0.32)' } },
  line(every13(ma200), '#2f6a2f', 1, 10),
  line(every13(ma100), '#e52020', 1, 10),
  line(every13(ma50), '#3c3c64', 1, 10),
  { data: every3(spxClose), borderWidth: 2, pointRadius: 0, fill: false, tension: 0, order: 4, borderColor: '#111',
    segment: { borderColor: c => c.p1.parsed.y < c.p0.parsed.y ? '#e81010' : '#111' } },
  ...trend(spxRedLevels, '#e02020', 1.5),
  ...trend(spxGreenLevels, '#168a16', 1.5),
  ...trend(spxGrayDashed, '#444', 1, [3, 3]),
  ...trend(spxBlueDashed, '#3434ff', 1, [3, 3]),
  ...trend(spxBlack, '#111', 1.5),
  ...trend(spxGrayThick, '#5a5a5a', 4),
  ...trend(spxBlueThick, '#0a1af0', 4),
  ...trend(spxTarget, '#0a1af0', 4, [4, 3])
], yScale(2353.38, 2391.43, priceTicks, priceTicks, int), { padTop: 165, padBottom: 173, axisH: 15 });
</script>
</body>
</html>
